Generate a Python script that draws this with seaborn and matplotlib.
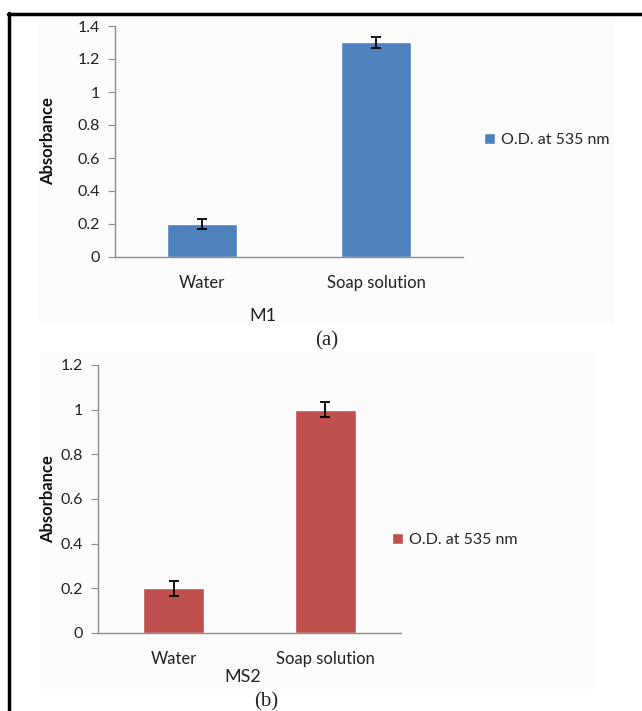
import matplotlib
matplotlib.use("Agg")
import matplotlib.pyplot as plt
import seaborn as sns
import pandas as pd
from matplotlib.patches import Patch, Rectangle
from matplotlib.lines import Line2D

categories = ["Water", "Soap solution"]
m1_values = [0.2, 1.3]
m1_errors = [0.03, 0.035]
ms2_values = [0.2, 1.0]
ms2_errors = [0.033, 0.033]
legend_label = "O.D. at 535 nm"

W, H = 642, 711

sns.set_style("white")
plt.rcParams["font.family"] = ["Lato", "DejaVu Sans"]


def px_box(left, top, right, bottom):
    return [left / W, (H - bottom) / H, (right - left) / W, (bottom - top) / H]


def draw_panel(fig, box, values, errors, color, ymax, ystep):
    ax = fig.add_axes(box)
    df = pd.DataFrame({"sample": categories, "absorbance": values})
    sns.barplot(data=df, x="sample", y="absorbance", color=color,
                width=0.4, errorbar=None, saturation=1, ax=ax)
    ax.errorbar(range(len(categories)), values, yerr=errors, fmt="none",
                ecolor="black", elinewidth=1.3, capsize=3.5, capthick=1.3)
    ax.set_ylim(0, ymax)
    ax.set_xlim(-0.5, len(categories) - 0.5)
    ticks = [round(i * ystep, 1) for i in range(int(round(ymax / ystep)) + 1)]
    ax.set_yticks(ticks)
    ax.set_yticklabels(["0" if t == 0 else ("1" if t == 1 else f"{t:g}") for t in ticks])
    ax.set_xticks([-0.5, 0.5, 1.5], minor=True)
    ax.tick_params(axis="x", which="major", length=0, pad=13, labelsize=12,
                   labelcolor="#222222")
    ax.tick_params(axis="x", which="minor", length=5, color="#8c8c8c", direction="out")
    ax.tick_params(axis="y", length=5, color="#8c8c8c", direction="out",
                   labelsize=11.5, labelcolor="#222222", pad=6, left=True)
    ax.set_xlabel("")
    ax.set_ylabel("")
    ax.set_facecolor("none")
    for s in ["top", "right"]:
        ax.spines[s].set_visible(False)
    for s in ["left", "bottom"]:
        ax.spines[s].set_color("#8c8c8c")
        ax.spines[s].set_linewidth(1)
    return ax


fig = plt.figure(figsize=(W / 100, H / 100), dpi=100)
fig.patch.set_facecolor("white")

# faint chart-area backgrounds
fig.add_artist(Rectangle((38 / W, 1 - 325 / H), (615 - 38) / W, (325 - 15) / H,
                         transform=fig.transFigure, facecolor="#fcfcfc",
                         edgecolor="none", zorder=-5))
fig.add_artist(Rectangle((40 / W, 1 - 690 / H), (595 - 40) / W, (690 - 352) / H,
                         transform=fig.transFigure, facecolor="#fcfcfc",
                         edgecolor="none", zorder=-5))

blue = "#4F81BD"
red = "#C0504D"

draw_panel(fig, px_box(115, 26, 463, 257), m1_values, m1_errors, blue, 1.4, 0.2)
draw_panel(fig, px_box(98, 365, 401, 633), ms2_values, ms2_errors, red, 1.2, 0.2)

# y labels
fig.text(48 / W, 1 - 141 / H, "Absorbance", rotation=90, ha="center", va="center",
         fontsize=12, fontweight="bold", color="#111111")
fig.text(48 / W, 1 - 499 / H, "Absorbance", rotation=90, ha="center", va="center",
         fontsize=12, fontweight="bold", color="#111111")

# axis titles
fig.text(263 / W, 1 - 316 / H, "M1", ha="center", va="center", fontsize=13,
         color="#222222")
fig.text(243 / W, 1 - 677 / H, "MS2", ha="center", va="center", fontsize=13,
         color="#222222")

# panel captions
fig.text(327 / W, 1 - 341 / H, "(a)", ha="center", va="center", fontsize=15,
         family=["Liberation Serif", "DejaVu Serif"])
fig.text(266 / W, 1 - 702 / H, "(b)", ha="center", va="center", fontsize=15,
         family=["Liberation Serif", "DejaVu Serif"])

# legends
fig.legend(handles=[Patch(facecolor=blue, label=legend_label)], loc="center left",
           bbox_to_anchor=(484 / W, 1 - 140 / H), frameon=False, fontsize=11.5,
           handlelength=0.7, handleheight=0.7, handletextpad=0.35,
           borderpad=0, borderaxespad=0)
fig.legend(handles=[Patch(facecolor=red, label=legend_label)], loc="center left",
           bbox_to_anchor=(392 / W, 1 - 540 / H), frameon=False, fontsize=11.5,
           handlelength=0.7, handleheight=0.7, handletextpad=0.35,
           borderpad=0, borderaxespad=0)

# frame (top and left edges visible)
fig.add_artist(Line2D([8 / W, 1.0], [1 - 14 / H, 1 - 14 / H], transform=fig.transFigure,
                      color="black", linewidth=2.5))
fig.add_artist(Line2D([9 / W, 9 / W], [1 - 13 / H, 0.0], transform=fig.transFigure,
                      color="black", linewidth=2.5))

fig.savefig("out.png", dpi=100)
